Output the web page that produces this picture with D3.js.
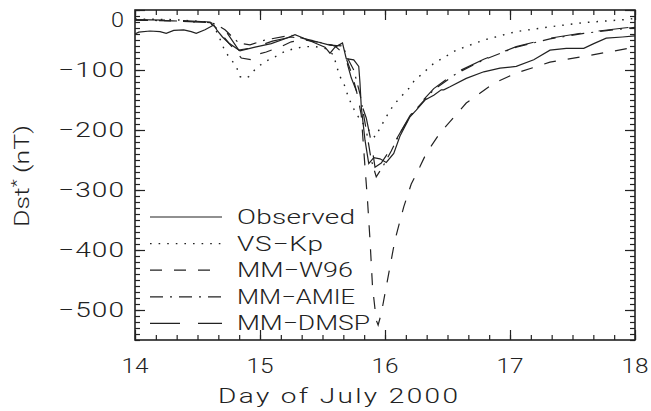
<!DOCTYPE html>
<html><head><meta charset="utf-8">
<script src="https://cdn.jsdelivr.net/npm/d3@7/dist/d3.min.js"></script>
<style>
html,body{margin:0;padding:0;background:#fff;}
svg text{font-family:Roboto,"Open Sans",sans-serif;font-weight:300;fill:#222;}
</style></head>
<body><svg id="c" width="651" height="411"></svg>
<script>
// ---- data (Day of July 2000, Dst* in nT) ----
const xTicks = [14, 15, 16, 17, 18];
const yTicks = [0, -100, -200, -300, -400, -500];
const seriesNames = ["Observed", "VS\u2212Kp", "MM\u2212W96", "MM\u2212AMIE", "MM\u2212DMSP"];

const obsT = [14.0,14.03,14.12,14.2,14.25,14.31,14.39,14.45,14.49,14.56,14.63,14.66,14.7,14.75,14.84,14.96,15.09,15.2,15.28,15.36,15.44,15.52,15.56,15.6,15.66,15.69,15.75,15.79,15.8,15.81,15.84,15.87,15.91,15.96,16.01,16.07,16.12,16.2,16.25,16.32,16.39,16.45,16.47,16.52,16.65,16.79,16.92,17.05,17.19,17.32,17.45,17.59,17.67,17.77,17.9,18.0];
const obsV = [-40,-37,-35,-36,-39,-34,-33,-36,-39,-33,-25,-35,-45,-55,-68,-62,-56,-48,-41,-48,-55,-62,-72,-62,-55,-81,-83,-94,-122,-161,-217,-256,-246,-248,-254,-239,-210,-178,-167,-150,-142,-133,-133,-128,-114,-103,-97,-94,-83,-67,-64,-64,-56,-47,-45,-43];

const kpT = [14.0,14.3,14.6,14.65,14.69,14.72,14.81,14.84,14.88,14.91,14.97,15.04,15.12,15.2,15.28,15.36,15.44,15.52,15.59,15.61,15.64,15.67,15.71,15.76,15.81,15.87,15.92,15.96,16.01,16.07,16.13,16.19,16.23,16.39,16.57,16.79,17.05,17.32,17.59,17.92,18.0];
const kpV = [-15,-16,-20,-35,-53,-69,-94,-111,-114,-111,-97,-86,-78,-69,-64,-61,-61,-64,-75,-92,-111,-122,-147,-169,-186,-200,-212,-197,-178,-158,-144,-131,-119,-89,-67,-50,-36,-28,-21,-16,-14];

const w96T = [14.0,14.3,14.6,14.65,14.75,14.85,14.93,14.96,15.05,15.17,15.25,15.36,15.5,15.6,15.68,15.74,15.78,15.81,15.84,15.86,15.88,15.9,15.93,15.945,15.97,16.03,16.08,16.15,16.21,16.28,16.33,16.44,16.65,16.87,17.05,17.32,17.6,17.84,18.0];
const w96V = [-17,-18,-21,-30,-55,-80,-83,-75,-70,-61,-53,-50,-55,-60,-75,-110,-142,-175,-262,-317,-383,-461,-517,-525,-506,-439,-383,-328,-290,-261,-239,-205,-155,-122,-105,-87,-77,-68,-62];

const amieT = [14.0,14.3,14.6,14.65,14.72,14.83,14.92,15.04,15.25,15.36,15.5,15.6,15.66,15.7,15.75,15.8,15.85,15.89,15.93,15.98,16.05,16.12,16.2,16.25,16.39,16.57,16.79,17.05,17.32,17.59,17.91,18.0];
const amieV = [-17,-18,-21,-24,-33,-55,-58,-50,-42,-48,-55,-60,-58,-80,-100,-140,-200,-250,-278,-262,-235,-205,-178,-165,-133,-106,-83,-62,-48,-39,-31,-29];

const dmspT = [14.0,14.3,14.6,14.66,14.72,14.83,14.96,15.1,15.25,15.4,15.55,15.65,15.69,15.73,15.8,15.85,15.89,15.92,15.97,16.05,16.12,16.2,16.25,16.39,16.57,16.79,17.05,17.32,17.59,17.91,18.0];
const dmspV = [-16,-17,-20,-28,-33,-67,-62,-52,-45,-50,-58,-60,-83,-113,-150,-180,-220,-262,-255,-230,-205,-176,-163,-131,-104,-82,-61,-47,-38,-30,-28];

// ---- layout ----
const svg = d3.select("#c");
const L = 135, R = 635, T = 10, B = 340;
const x = d3.scaleLinear().domain([14, 18]).range([L, R]);
const y = d3.scaleLinear().domain([-550, 0]).range([B, T]);
const ink = "#222";

const styles = [
  {dash: null, w: 1.2},
  {dash: "1.6,7", w: 1.4},
  {dash: "12,12", w: 1.2},
  {dash: "13,7,2,7", w: 1.2},
  {dash: "30,18", w: 1.2}
];
const data = [[obsT, obsV], [kpT, kpV], [w96T, w96V], [amieT, amieV], [dmspT, dmspV]];

svg.append("clipPath").attr("id", "pc").append("rect")
  .attr("x", L).attr("y", T).attr("width", R - L).attr("height", B - T);

const line = d3.line().x(d => x(d[0])).y(d => y(d[1]));
const g = svg.append("g").attr("clip-path", "url(#pc)");
data.forEach((s, i) => {
  const pts = s[0].map((t, k) => [t, s[1][k]]);
  g.append("path").attr("d", line(pts)).attr("fill", "none")
    .attr("stroke", ink).attr("stroke-width", styles[i].w)
    .attr("stroke-dasharray", styles[i].dash);
});

// ---- axes (ticks inward) ----
const minorX = d3.range(0, 25).map(i => 14 + i / 6);
const minorY = d3.range(0, 56).map(i => -i * 10);
function axis(gen, scale, vals, size, tr) {
  const a = svg.append("g").attr("transform", tr)
    .call(gen(scale).tickValues(vals).tickSize(size).tickFormat(""));
  a.select(".domain").remove();
  a.selectAll("line").attr("stroke", ink).attr("stroke-width", 1.2);
}
axis(d3.axisBottom, x, minorX, -5, `translate(0,${B})`);
axis(d3.axisBottom, x, xTicks, -10, `translate(0,${B})`);
axis(d3.axisTop, x, minorX, -5, `translate(0,${T})`);
axis(d3.axisTop, x, xTicks, -10, `translate(0,${T})`);
axis(d3.axisLeft, y, minorY, -5, `translate(${L},0)`);
axis(d3.axisLeft, y, yTicks, -10, `translate(${L},0)`);
axis(d3.axisRight, y, minorY, -5, `translate(${R},0)`);
axis(d3.axisRight, y, yTicks, -10, `translate(${R},0)`);
svg.append("rect").attr("x", L).attr("y", T).attr("width", R - L).attr("height", B - T)
  .attr("fill", "none").attr("stroke", ink).attr("stroke-width", 1.6);

// ---- wide, thin labels (IDL-like) ----
const fs = 20;
function wide(px, py, anchor, str, target, rot) {
  const grp = svg.append("g");
  const t = grp.append("text").attr("text-anchor", anchor).attr("font-size", fs);
  if (typeof str === "function") str(t); else t.text(str);
  const nat = t.node().getComputedTextLength();
  const sx = Math.min(target / nat, 1.4);
  t.attr("textLength", target / sx).attr("lengthAdjust", "spacing");
  grp.attr("transform", `translate(${px},${py})` + (rot ? ` rotate(${rot})` : "") + ` scale(${sx},1)`);
  return grp;
}
const fmt = v => v < 0 ? "\u2212" + Math.abs(v) : String(v);
xTicks.forEach(v => wide(x(v), 373, "middle", String(v), 27));
yTicks.forEach(v => wide(124, (v === 0 ? y(v) + 10 : y(v)) + 7, "end", fmt(v), v === 0 ? 13 : 66));
wide(338, 403, "middle", "Day of July 2000", 240);
wide(29, 176, "middle", t => {
  t.append("tspan").text("Dst");
  t.append("tspan").attr("dy", -7).attr("font-size", 14).text("*");
  t.append("tspan").attr("dy", 7).text(" (nT)");
}, 102, -90);

// ---- legend ----
const legW = [118, 86, 116, 118, 133];
seriesNames.forEach((n, i) => {
  const cy = 217 + i * 26.6;
  svg.append("line").attr("x1", 150).attr("x2", 222).attr("y1", cy).attr("y2", cy)
    .attr("stroke", ink).attr("stroke-width", styles[i].w).attr("stroke-dasharray", styles[i].dash);
  wide(237, cy + 7, "start", n, legW[i]);
});
</script></body></html>
